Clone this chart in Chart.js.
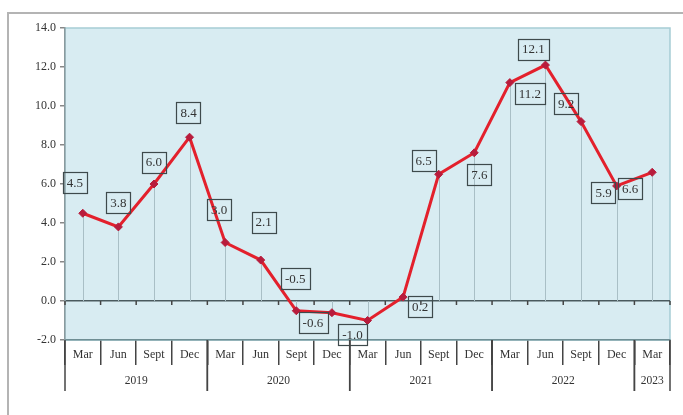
<!DOCTYPE html>
<html>
<head>
<meta charset="utf-8">
<script src="https://cdn.jsdelivr.net/npm/chart.js@4"></script>
<style>
    html, body { margin: 0; padding: 0; background: #fff; }
    #wrap { width: 683px; height: 415px; position: relative; }
</style>
</head>
<body>
<div id="wrap"><canvas id="growthChart"></canvas></div>
<script>
// quarterly values, Mar 2019 .. Mar 2023
const quarters = ['Mar', 'Jun', 'Sept', 'Dec', 'Mar', 'Jun', 'Sept', 'Dec', 'Mar', 'Jun', 'Sept', 'Dec', 'Mar', 'Jun', 'Sept', 'Dec', 'Mar'];
const quarterYears = ['2019', '2019', '2019', '2019', '2020', '2020', '2020', '2020', '2021', '2021', '2021', '2021', '2022', '2022', '2022', '2022', '2023'];
const growth = [4.5, 3.8, 6.0, 8.4, 3.0, 2.1, -0.5, -0.6, -1.0, 0.2, 6.5, 7.6, 11.2, 12.1, 9.2, 5.9, 6.6];
const yTicks = [-2, 0, 2, 4, 6, 8, 10, 12, 14];

// where each boxed label sits relative to its point (px)
const labelOffsets = [[-8, -31], [0, -24], [0, -22], [-1, -25], [-6, -33], [3, -38], [-1, -32], [-19, 10],
    [-15, 14], [17, 9], [-15, -14], [5, 22], [20, 11], [-12, -16], [-15, -18], [-13, 7], [-22, 16]];

const FONT = "'Liberation Serif', 'Times New Roman', serif";

document.addEventListener('DOMContentLoaded', () => {
    const canvas = document.getElementById('growthChart');

    const framePlugin = {
        id: 'frame',
        beforeDraw(chart) {
            const { ctx, chartArea: a } = chart;
            ctx.save();
            ctx.strokeStyle = '#b4b4b4';
            ctx.lineWidth = 2;
            ctx.beginPath();
            ctx.moveTo(8, 415);
            ctx.lineTo(8, 13);
            ctx.lineTo(683, 13);
            ctx.stroke();
            ctx.fillStyle = '#d8ecf2';
            ctx.fillRect(a.left, a.top, a.right - a.left, a.bottom - a.top);
            ctx.strokeStyle = '#a6cdd5';
            ctx.lineWidth = 1.5;
            ctx.strokeRect(a.left, a.top, a.right - a.left, a.bottom - a.top);
            ctx.restore();
        },
        beforeDatasetsDraw(chart) {
            const { ctx, scales: { x, y } } = chart;
            const y0 = y.getPixelForValue(0);
            const meta = chart.getDatasetMeta(0);
            ctx.save();
            // drop lines to the zero line
            ctx.strokeStyle = '#a9bfc6';
            ctx.lineWidth = 1;
            meta.data.forEach(pt => {
                ctx.beginPath();
                ctx.moveTo(Math.round(pt.x) + 0.5, pt.y);
                ctx.lineTo(Math.round(pt.x) + 0.5, y0);
                ctx.stroke();
            });
            // small ticks under the zero line
            ctx.strokeStyle = '#444';
            ctx.lineWidth = 1.5;
            for (let i = 0; i <= quarters.length; i++) {
                const px = x.getPixelForValue(i - 0.5);
                ctx.beginPath();
                ctx.moveTo(px, y0);
                ctx.lineTo(px, y0 + 4);
                ctx.stroke();
            }
            ctx.restore();
        },
        afterDraw(chart) {
            const { ctx, scales: { x } } = chart;
            const top = chart.chartArea.bottom;
            ctx.save();
            ctx.strokeStyle = '#444';
            ctx.lineWidth = 1.5;
            ctx.fillStyle = '#333';
            ctx.font = '11.5px ' + FONT;
            ctx.textAlign = 'center';
            ctx.textBaseline = 'middle';
            let start = 0;
            for (let i = 1; i <= quarterYears.length; i++) {
                if (i === quarterYears.length || quarterYears[i] !== quarterYears[start]) {
                    const left = x.getPixelForValue(start - 0.5);
                    const right = x.getPixelForValue(i - 0.5);
                    [left, right].forEach(px => {
                        ctx.beginPath();
                        ctx.moveTo(px, top);
                        ctx.lineTo(px, top + 51);
                        ctx.stroke();
                    });
                    ctx.fillText(quarterYears[start], (left + right) / 2, top + 41);
                    start = i;
                }
            }
            ctx.restore();
        }
    };

    const boxLabels = {
        id: 'boxLabels',
        afterDatasetsDraw(chart) {
            const { ctx } = chart;
            const meta = chart.getDatasetMeta(0);
            ctx.save();
            ctx.font = '13px ' + FONT;
            ctx.textAlign = 'center';
            ctx.textBaseline = 'middle';
            meta.data.forEach((pt, i) => {
                const text = growth[i].toFixed(1);
                const cx = pt.x + labelOffsets[i][0];
                const cy = pt.y + labelOffsets[i][1];
                const w = ctx.measureText(text).width + 8;
                const h = 21;
                ctx.strokeStyle = '#3e4a4c';
                ctx.lineWidth = 1.2;
                ctx.strokeRect(Math.round(cx - w / 2) + 0.5, Math.round(cy - h / 2) + 0.5, Math.round(w), h);
                ctx.fillStyle = '#333';
                ctx.fillText(text, cx, cy + 1);
            });
            ctx.restore();
        }
    };

    new Chart(canvas, {
        type: 'line',
        data: {
            labels: quarters,
            datasets: [{
                data: growth,
                borderColor: '#e3202c',
                borderWidth: 3,
                tension: 0,
                pointStyle: 'rectRot',
                pointRadius: 4,
                pointBackgroundColor: '#b81c3c',
                pointBorderColor: '#b81c3c',
                pointBorderWidth: 1,
            }]
        },
        options: {
            responsive: true,
            maintainAspectRatio: false,
            animation: false,
            layout: {
                padding: { left: 0, top: 28, right: 13, bottom: 0 }
            },
            scales: {
                x: {
                    offset: true,
                    afterFit(scale) { scale.height = 75; },
                    grid: {
                        offset: true,
                        drawOnChartArea: false,
                        tickLength: 25,
                        color: '#444',
                        lineWidth: 1.5,
                    },
                    border: { display: true, color: '#6f8e94', width: 1.5 },
                    ticks: {
                        autoSkip: false,
                        maxRotation: 0,
                        padding: -17,
                        color: '#333',
                        font: { family: FONT, size: 12 },
                    }
                },
                y: {
                    min: -2,
                    max: 14,
                    afterFit(scale) { scale.width = 65; },
                    afterBuildTicks(scale) {
                        scale.ticks = yTicks.map(v => ({ value: v }));
                    },
                    grid: {
                        drawOnChartArea: true,
                        color: ctx => ctx.tick && ctx.tick.value === 0 ? '#4a5a5e' : 'rgba(0,0,0,0)',
                        lineWidth: 1.5,
                        tickColor: '#888',
                        tickLength: 5,
                    },
                    border: { display: true, color: '#8a9a9e', width: 1.5 },
                    ticks: {
                        padding: 4,
                        color: '#333',
                        font: { family: FONT, size: 12 },
                        callback: value => value.toFixed(1),
                    }
                }
            },
            plugins: {
                legend: { display: false },
                tooltip: { enabled: false },
            }
        },
        plugins: [framePlugin, boxLabels]
    });
});
</script>
</body>
</html>
